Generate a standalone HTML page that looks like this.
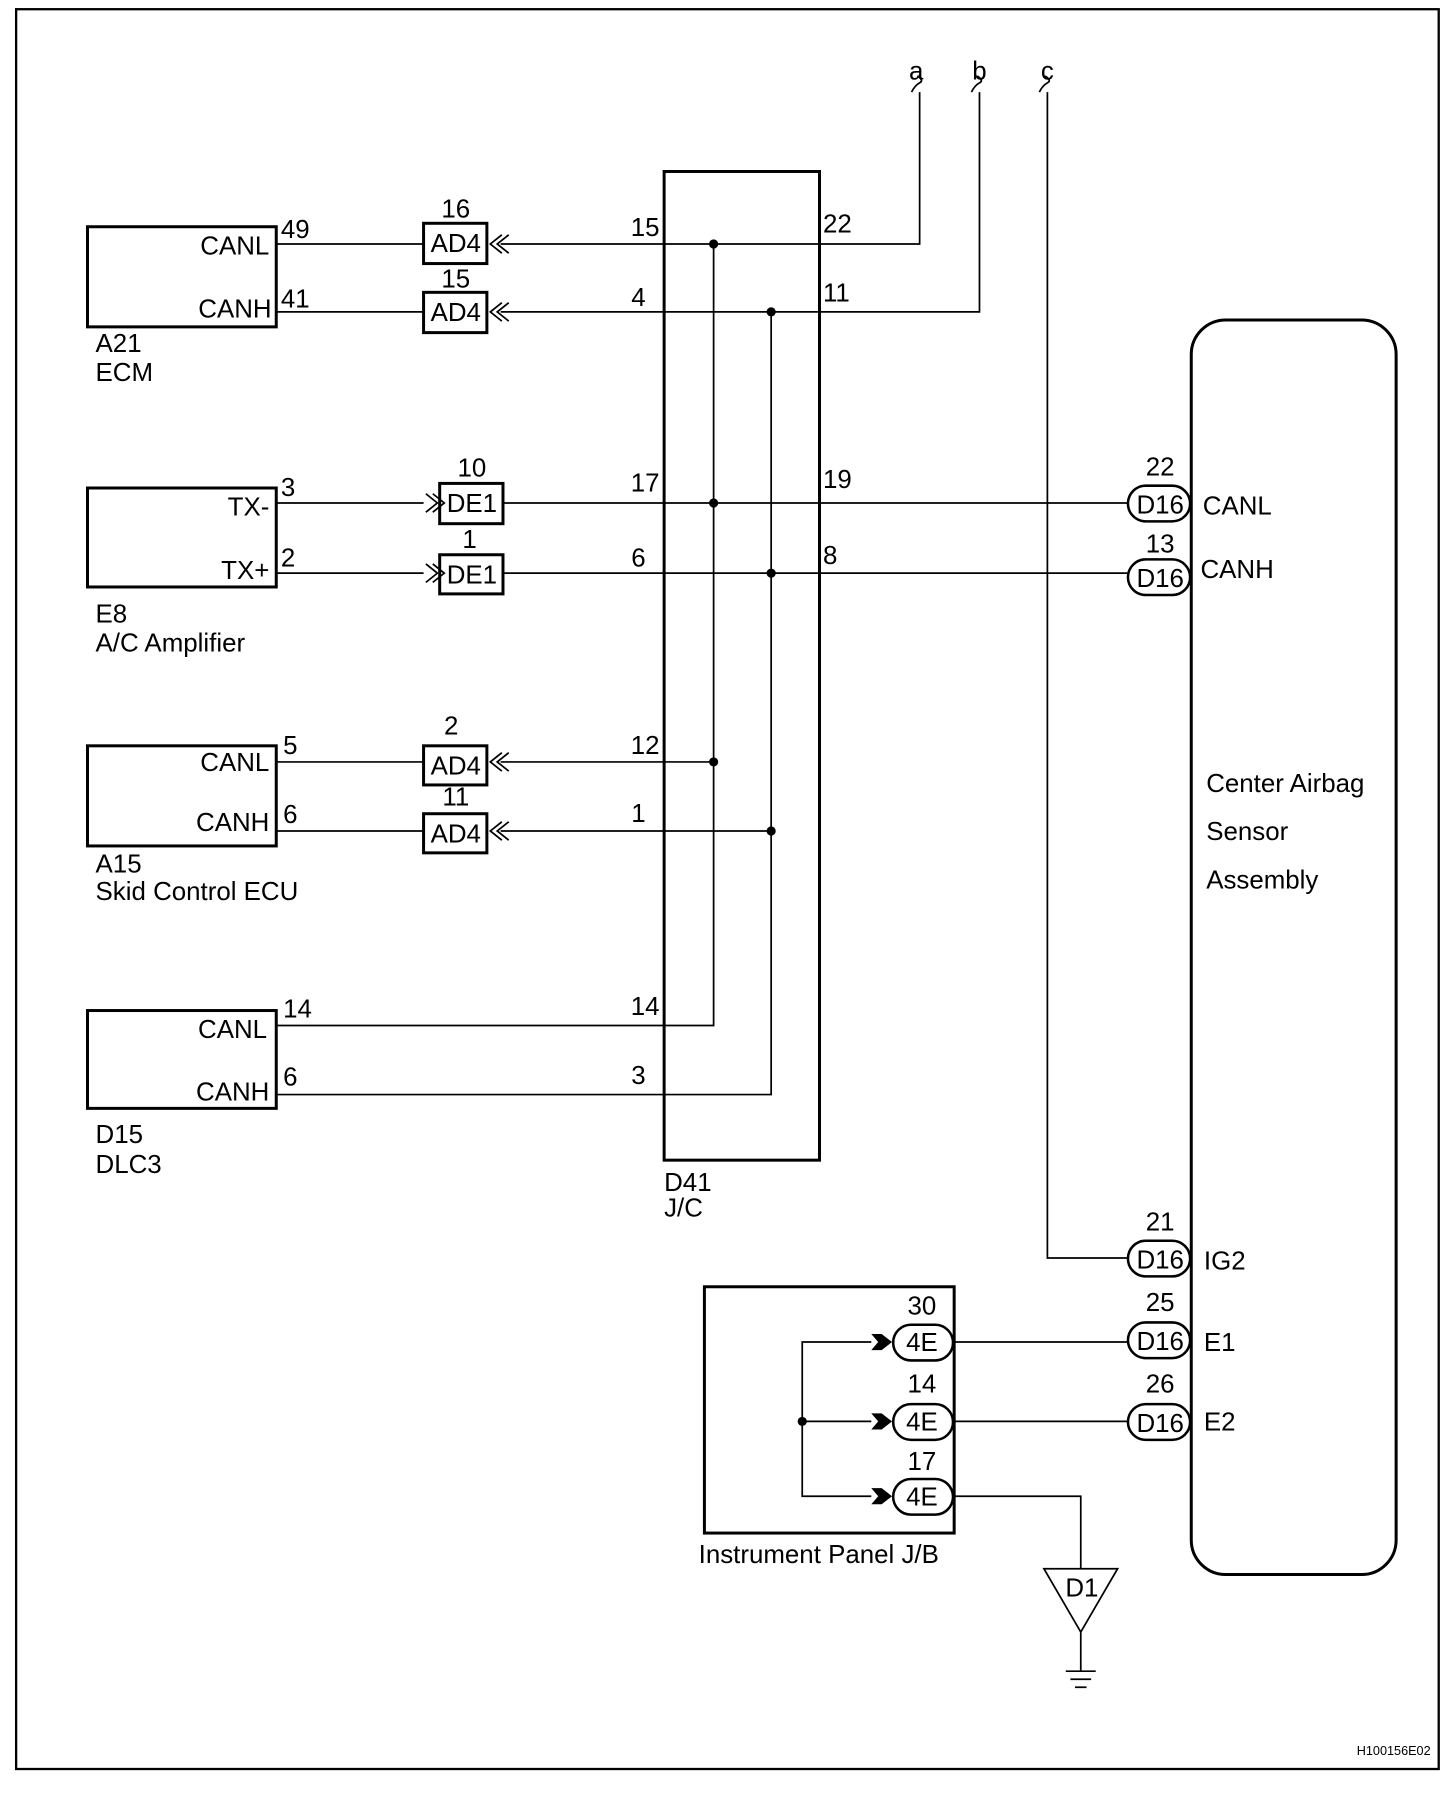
<!DOCTYPE html>
<html><head><meta charset="utf-8"><style>
html,body{margin:0;padding:0;background:#fff}
svg{display:block}
text{font-family:"Liberation Sans",Arial,sans-serif;font-size:22.5px;fill:#000}
</style></head><body>
<svg width="1456" height="1804" viewBox="0 0 1265 1567.4" xmlns="http://www.w3.org/2000/svg">
<rect x="14" y="8" width="1236" height="1529" fill="none" stroke="#000" stroke-width="2"/>
<g fill="none" stroke="#000" stroke-width="2.6">
<rect x="76" y="197" width="164" height="87"/>
<rect x="76" y="424" width="164" height="86"/>
<rect x="76" y="648" width="164" height="87"/>
<rect x="76" y="878" width="164" height="85"/>
<rect x="577" y="149" width="135" height="859"/>
<rect x="1035" y="278" width="178" height="1090" rx="30"/>
<rect x="612" y="1118" width="217" height="214"/>
<rect x="368" y="194" width="55" height="35"/>
<rect x="368" y="254" width="55" height="35"/>
<rect x="368" y="648" width="55" height="34"/>
<rect x="368" y="707" width="55" height="34"/>
<rect x="382" y="420" width="55" height="35"/>
<rect x="382" y="482" width="55" height="34"/>
</g>
<g fill="none" stroke="#000" stroke-width="1.5">
<path d="M240 212H368M435 212H799V80M240 271H368M435 271H851V80M910 80V1093H980"/>
<path d="M240 437H368M437 437H980M240 498H368M437 498H980"/>
<path d="M240 662H368M435 662H620M240 722H368M435 722H670"/>
<path d="M240 891H620V212M240 951H670V271"/>
<path d="M829 1166H980M829 1235H980M829 1300H939V1363"/>
<path d="M757 1166H697V1300H757M697 1235H757"/>
<path d="M907 1363H971L939 1418Z"/>
<path d="M939 1418V1452M926 1452H952M930 1459H948M934 1466H944"/>
<path d="M436 204l-10 8l10 8M442 204l-10 8l10 8"/>
<path d="M436 263l-10 8l10 8M442 263l-10 8l10 8"/>
<path d="M436 654l-10 8l10 8M442 654l-10 8l10 8"/>
<path d="M436 714l-10 8l10 8M442 714l-10 8l10 8"/>
<path d="M370 429l10 8l-10 8M376 429l10 8l-10 8"/>
<path d="M370 490l10 8l-10 8M376 490l10 8l-10 8"/>
<path d="M792 80q3 -6 7 -8q4 -2 -2 -6M844 80q3 -6 7 -8q4 -2 -2 -6M903 80q3 -6 7 -8q4 -2 -2 -6"/>
</g>
<g fill="#fff" stroke="#000" stroke-width="2.2">
<rect x="980" y="422" width="54" height="31" rx="15.5"/>
<rect x="980" y="486" width="54" height="31" rx="15.5"/>
<rect x="980" y="1078" width="54" height="31" rx="15.5"/>
<rect x="980" y="1149" width="54" height="31" rx="15.5"/>
<rect x="980" y="1220" width="54" height="31" rx="15.5"/>
<rect x="776" y="1151" width="52" height="31" rx="15.5"/>
<rect x="776" y="1220" width="52" height="31" rx="15.5"/>
<rect x="776" y="1285" width="52" height="31" rx="15.5"/>
</g>
<g fill="#000">
<circle cx="620" cy="212" r="4"/><circle cx="670" cy="271" r="4"/>
<circle cx="620" cy="437" r="4"/><circle cx="670" cy="498" r="4"/>
<circle cx="620" cy="662" r="4"/><circle cx="670" cy="722" r="4"/>
<circle cx="697" cy="1235" r="4"/>
<path d="M757 1159h9l9 7l-9 7h-9l6 -7z"/>
<path d="M757 1228h9l9 7l-9 7h-9l6 -7z"/>
<path d="M757 1293h9l9 7l-9 7h-9l6 -7z"/>
</g>
<g text-anchor="end">
<text x="234" y="221">CANL</text><text x="236" y="276">CANH</text>
<text x="234" y="448">TX-</text><text x="234" y="503">TX+</text>
<text x="234" y="670">CANL</text><text x="234" y="722">CANH</text>
<text x="232" y="902">CANL</text><text x="234" y="956">CANH</text>
<text x="573" y="205">15</text><text x="561" y="266">4</text>
<text x="573" y="427">17</text><text x="561" y="492">6</text>
<text x="573" y="655">12</text><text x="561" y="714">1</text>
<text x="573" y="882">14</text><text x="561" y="942">3</text>
</g>
<g>
<text x="244" y="207">49</text><text x="244" y="267">41</text>
<text x="244" y="431">3</text><text x="244" y="492">2</text>
<text x="246" y="655">5</text><text x="246" y="715">6</text>
<text x="246" y="884">14</text><text x="246" y="943">6</text>
<text x="83" y="306">A21</text><text x="83" y="331">ECM</text>
<text x="83" y="541">E8</text><text x="83" y="566">A/C Amplifier</text>
<text x="83" y="758">A15</text><text x="83" y="782">Skid Control ECU</text>
<text x="83" y="993">D15</text><text x="83" y="1019">DLC3</text>
<text x="577" y="1035">D41</text><text x="577" y="1057">J/C</text>
<text x="715" y="202">22</text><text x="715" y="262">11</text>
<text x="715" y="424">19</text><text x="715" y="490">8</text>
<text x="1045" y="447">CANL</text><text x="1043" y="502">CANH</text>
<text x="1046" y="1103">IG2</text><text x="1046" y="1174">E1</text><text x="1046" y="1243">E2</text>
<text x="1048" y="688">Center Airbag</text><text x="1048" y="730">Sensor</text><text x="1048" y="772">Assembly</text>
<text x="607" y="1358">Instrument Panel J/B</text>
</g>
<g text-anchor="middle">
<text x="396" y="189">16</text><text x="396" y="250">15</text>
<text x="392" y="638">2</text><text x="396" y="700">11</text>
<text x="410" y="414">10</text><text x="408" y="476">1</text>
<text x="396" y="219">AD4</text><text x="396" y="279">AD4</text>
<text x="396" y="673">AD4</text><text x="396" y="732">AD4</text>
<text x="410" y="445">DE1</text><text x="410" y="507">DE1</text>
<text x="1008" y="413">22</text><text x="1008" y="480">13</text>
<text x="1008" y="1069">21</text><text x="1008" y="1139">25</text><text x="1008" y="1210">26</text>
<text x="1008" y="446">D16</text><text x="1008" y="510">D16</text>
<text x="1008" y="1102">D16</text><text x="1008" y="1173">D16</text><text x="1008" y="1244">D16</text>
<text x="801" y="1142">30</text><text x="801" y="1210">14</text><text x="801" y="1277">17</text>
<text x="801" y="1174">4E</text><text x="801" y="1243">4E</text><text x="801" y="1308">4E</text>
<text x="940" y="1387">D1</text>
<text x="796" y="69">a</text><text x="851" y="69">b</text><text x="910" y="69">c</text>
</g>
<text x="1243" y="1525" text-anchor="end" style="font-size:11px">H100156E02</text>
</svg>
</body></html>
